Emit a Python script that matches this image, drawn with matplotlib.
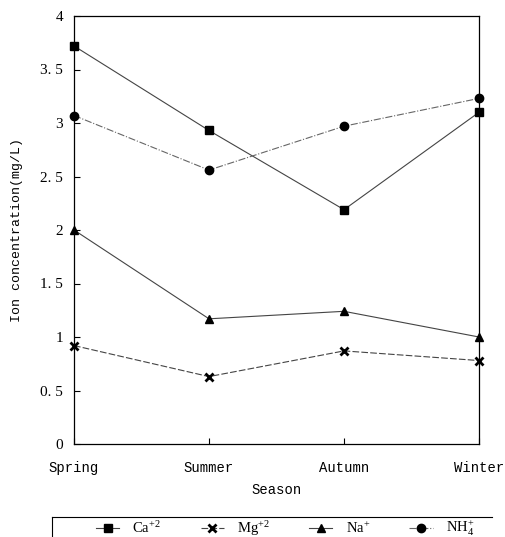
import matplotlib
matplotlib.use('Agg')
import matplotlib.pyplot as plt
from matplotlib.lines import Line2D

# Seasonal mean ion concentrations (mg/L)
seasons = ['Spring', 'Summer', 'Autumn', 'Winter']
ca = [3.72, 2.93, 2.19, 3.10]
mg = [0.92, 0.63, 0.87, 0.78]
na = [2.00, 1.17, 1.24, 1.00]
nh4 = [3.07, 2.56, 2.97, 3.23]
yticks = [0, 0.5, 1, 1.5, 2, 2.5, 3, 3.5, 4]
ytick_labels = ['0', '0. 5', '1', '1. 5', '2', '2. 5', '3', '3. 5', '4']

plt.rcParams['mathtext.fontset'] = 'custom'
plt.rcParams['mathtext.rm'] = 'Liberation Serif'
plt.rcParams['mathtext.it'] = 'Liberation Serif:italic'

W, H = 506, 537
fig = plt.figure(figsize=(W / 100, H / 100), dpi=100)
ax = fig.add_axes([74 / W, 1 - 444 / H, 405 / W, 428 / H])

x = range(len(seasons))
lc = '#444444'
ax.plot(x, ca, '-', color=lc, lw=0.8, marker='s', ms=6, mfc='black', mec='black',
        label=r'Ca$^{+2}$', clip_on=False)
ax.plot(x, mg, '--', color=lc, lw=0.8, marker='x', ms=6, mew=2, mec='black',
        label=r'Mg$^{+2}$', dashes=(6, 2), clip_on=False)
ax.plot(x, na, '-', color=lc, lw=0.8, marker='^', ms=6, mfc='black', mec='black',
        label=r'Na$^{+}$', clip_on=False)
ax.plot(x, nh4, '-.', color='#666666', lw=0.8, marker='o', ms=6, mfc='black', mec='black',
        label=r'NH$_4^{+}$', clip_on=False)

ax.set_xlim(0, 3)
ax.set_ylim(0, 4)
ax.set_xticks(list(x))
ax.set_xticklabels(seasons, family='Liberation Mono', fontsize=10)
ax.set_yticks(yticks)
ax.set_yticklabels(ytick_labels, family='Liberation Serif', fontsize=11)
ax.tick_params(direction='in', length=4, width=0.8, pad=8)
ax.tick_params(axis='x', pad=12)
for s in ax.spines.values():
    s.set_linewidth(0.9)

ax.set_xlabel('Season', family='Liberation Mono', fontsize=10, labelpad=6)
ax.set_ylabel('Ion concentration(mg/L)', family='Liberation Mono', fontsize=9.5, labelpad=12)

# legend row near the bottom edge, with an open box drawn around it
leg = fig.legend(loc='upper left', bbox_to_anchor=(96 / W, 1 - 519 / H),
                 ncol=4, frameon=False, borderpad=0, borderaxespad=0,
                 handlelength=1.6, handletextpad=0.9, columnspacing=2.7,
                 prop={'family': 'Liberation Serif', 'size': 10.5})
fig.add_artist(Line2D([52 / W, 492 / W], [1 - 517 / H, 1 - 517 / H],
                      transform=fig.transFigure, color='black', lw=0.8))
fig.add_artist(Line2D([52 / W, 52 / W], [1 - 517 / H, 0],
                      transform=fig.transFigure, color='black', lw=0.8))

fig.savefig('out.png', dpi=100)
